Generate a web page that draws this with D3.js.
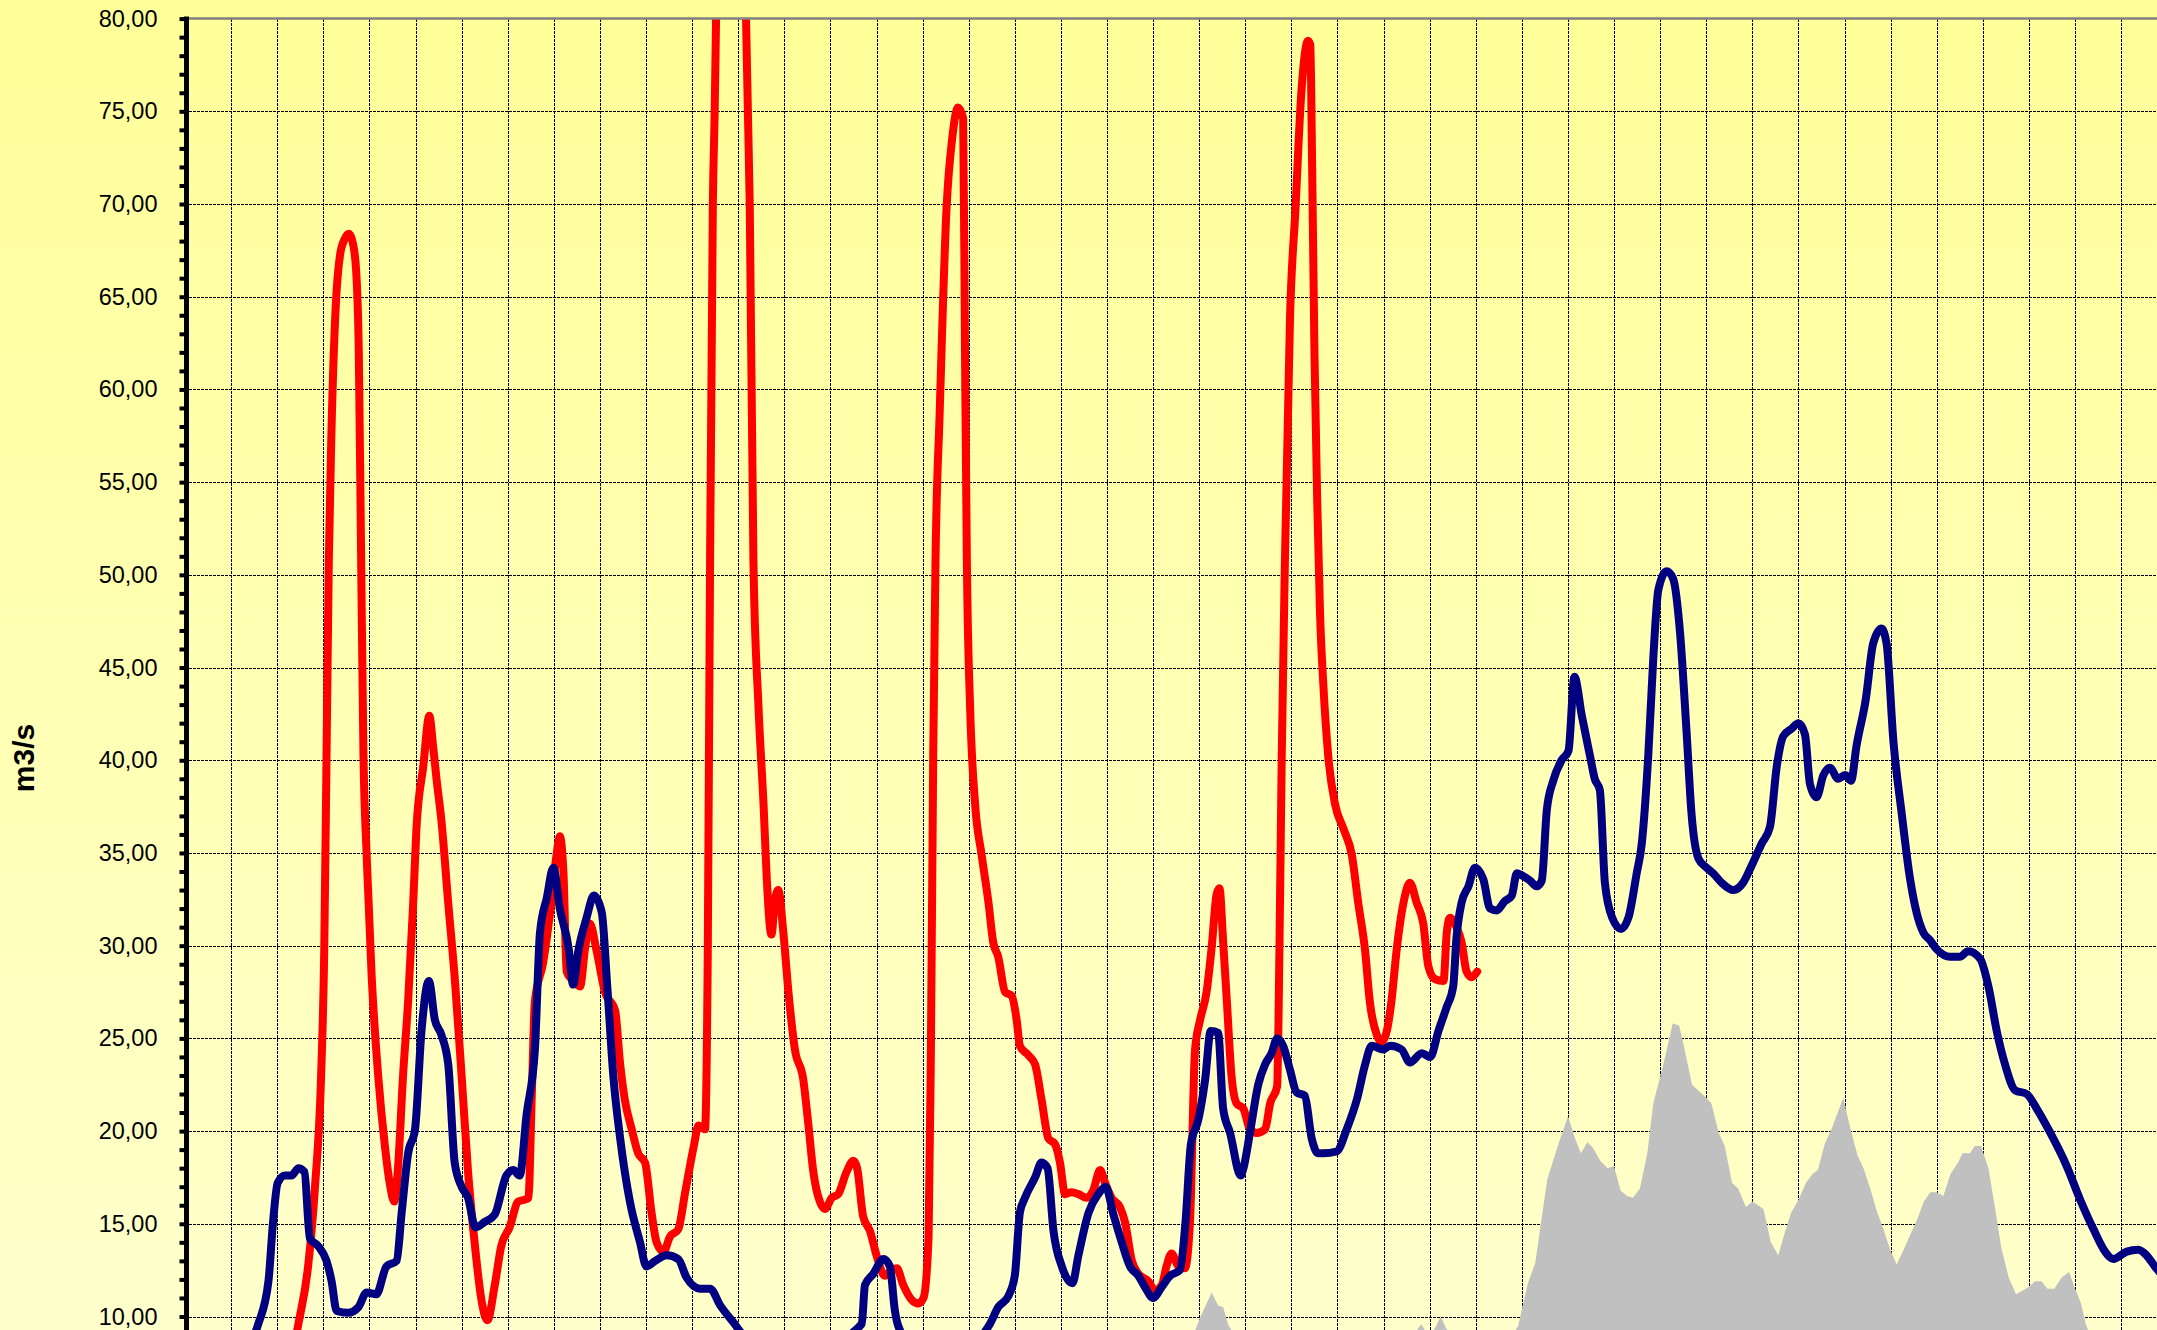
<!DOCTYPE html>
<html>
<head>
<meta charset="utf-8">
<script src="https://cdn.jsdelivr.net/npm/d3@7"></script>
<style>
    body { margin: 0; background: #ffffcc; }
    svg { display: block; font-family: "Liberation Sans", Arial, sans-serif; }
</style>
</head>
<body>
<svg id="chart" width="2157" height="1330"></svg>
<script>
// flow in m3/s, x position in weeks counted from the y axis

// red year
let redWeek = [2.30, 2.46, 2.67, 2.82, 2.95, 3.02, 3.07, 3.12, 3.18, 3.27, 3.36, 3.46, 3.56, 3.64, 3.71, 3.77, 3.82, 3.87, 3.94,
    4.05, 4.19, 4.34, 4.44, 4.54, 4.62, 4.73, 4.84, 4.95, 5.02, 5.17, 5.30, 5.38, 5.46, 5.56, 5.71, 5.85, 6.00, 6.14, 6.29,
    6.43, 6.56, 6.72, 6.86, 7.04, 7.23, 7.37, 7.45, 7.52, 7.59, 7.77, 7.92, 8.06, 8.13, 8.21, 8.28, 8.42, 8.57, 8.68, 8.78,
    8.93, 9.11, 9.33, 9.44, 9.54, 9.69, 9.83, 9.98, 10.12, 10.23, 10.38, 10.52, 10.70, 10.85, 11.03, 11.14, 11.28, 11.34,
    11.39, 11.45, 11.49, 11.52, 11.65, 11.85, 12.05, 12.17, 12.21, 12.25, 12.33, 12.44, 12.55, 12.62, 12.72, 12.80, 12.87,
    12.98, 13.09, 13.23, 13.41, 13.52, 13.63, 13.77, 13.88, 14.03, 14.17, 14.35, 14.50, 14.58, 14.71, 14.86, 15.00, 15.18,
    15.33, 15.44, 15.58, 15.76, 15.91, 16.02, 16.13, 16.18, 16.23, 16.28, 16.37, 16.52, 16.64, 16.77, 16.88, 16.92, 16.96,
    17.03, 17.14, 17.28, 17.43, 17.53, 17.64, 17.79, 17.93, 18.04, 18.11, 18.29, 18.44, 18.58, 18.73, 18.87, 18.98, 19.09,
    19.23, 19.38, 19.56, 19.70, 19.85, 19.96, 20.10, 20.28, 20.39, 20.54, 20.68, 20.90, 21.04, 21.19, 21.29, 21.40, 21.55,
    21.69, 21.80, 21.91, 22.02, 22.16, 22.27, 22.38, 22.44, 22.52, 22.60, 22.70, 22.81, 22.96, 23.10, 23.25, 23.43, 23.54,
    23.69, 23.74, 23.79, 23.86, 23.97, 24.09, 24.21, 24.36, 24.41, 24.45, 24.50, 24.56, 24.62, 24.69, 24.80, 24.95, 25.13,
    25.31, 25.45, 25.60, 25.70, 25.85, 25.96, 26.07, 26.17, 26.28, 26.43, 26.57, 26.72, 26.86, 26.97, 27.11, 27.30, 27.37,
    27.44, 27.58, 27.69, 27.80, 27.91, 28.03];
let redFlow = [7.5, 9.6, 12.7, 17.0, 22.8, 29.7, 40.2, 50.8, 58.0, 64.5, 67.2, 68.1, 68.4, 67.9, 66.5, 62.0, 51.0, 40.5, 34.9,
    28.3, 23.0, 19.1, 17.2, 16.2, 18.0, 23.0, 27.0, 32.3, 36.3, 39.7, 42.4, 40.8, 38.9, 36.8, 32.3, 28.3, 23.0, 17.8, 13.8,
    10.9, 9.8, 11.7, 13.8, 14.8, 16.2, 16.3, 16.4, 21.7, 27.0, 29.1, 31.8, 34.9, 35.9, 33.9, 28.6, 28.1, 27.8, 29.9, 31.2,
    29.7, 27.5, 26.5, 23.6, 21.7, 20.1, 18.8, 18.3, 15.6, 14.0, 13.5, 14.3, 14.7, 16.7, 19.1, 20.3, 20.1, 29.7,
    50.8, 70.0, 75.0, 80.0, 95.0, 100.0, 95.0, 80.0, 75.0, 70.0, 50.8, 42.9, 37.6, 33.6, 30.6, 32.5, 33.0,
    30.7, 27.5, 24.4, 22.8, 20.4, 17.8, 16.2, 15.8, 16.4, 16.6, 17.8, 18.4, 18.0, 15.4, 14.6, 13.3, 12.2,
    12.5, 12.6, 11.7, 10.9, 10.7, 11.0, 14.3, 24.4, 40.2, 50.8, 58.7, 69.8, 73.5, 75.2, 74.6, 62.0, 50.8,
    42.9, 37.6, 34.9, 32.3, 30.2, 29.4, 27.5, 27.3, 26.0, 24.6, 24.1, 23.6, 21.7, 19.6, 19.3, 18.3, 16.6,
    16.7, 16.6, 16.4, 16.8, 17.9, 17.2, 16.4, 15.9, 15.1, 13.0, 12.3, 11.9, 11.4, 11.7, 12.7, 13.4, 12.7,
    12.6, 15.1, 24.4, 26.0, 27.5, 29.9, 32.8, 33.1, 30.2, 27.0, 23.0, 21.5, 21.2, 20.1, 19.9, 20.1, 21.5,
    22.4, 29.7, 40.2, 50.8, 63.9, 69.8, 75.8, 78.8, 78.6, 72.0, 62.0, 54.0, 48.0, 44.2, 40.2, 37.6, 36.3,
    34.9, 32.3, 29.7, 27.0, 25.2, 24.8, 25.4, 27.0, 29.7, 32.3, 33.4, 32.3, 31.2, 28.9, 28.2, 28.1, 30.7,
    31.5, 31.0, 30.2, 28.6, 28.3, 28.6];

// blue year
let blueWeek = [1.30, 1.59, 1.81, 1.91, 2.01, 2.17, 2.31, 2.46, 2.59, 2.71, 2.89, 3.07, 3.18, 3.29, 3.54, 3.76, 3.94, 4.15,
    4.37, 4.59, 4.70, 4.84, 4.99, 5.13, 5.29, 5.42, 5.56, 5.71, 5.85, 6.00, 6.14, 6.30, 6.50, 6.72, 6.97, 7.12, 7.26, 7.41,
    7.59, 7.70, 7.85, 7.99, 8.13, 8.32, 8.42, 8.53, 8.71, 8.87, 9.04, 9.16, 9.29, 9.44, 9.65, 9.87, 10.01, 10.20, 10.45,
    10.70, 10.88, 11.17, 11.39, 11.61, 11.89, 12.20, 13.00, 14.00, 14.68, 14.75, 14.93, 15.15, 15.29, 15.40, 15.47, 15.80,
    16.80, 17.46, 17.64, 17.86, 18.00, 18.11, 18.22, 18.44, 18.58, 18.71, 18.84, 19.02, 19.25, 19.38, 19.60, 19.81, 19.97,
    20.14, 20.32, 20.50, 20.68, 20.82, 21.00, 21.19, 21.37, 21.58, 21.70, 21.82, 21.98, 22.13, 22.25, 22.41, 22.52, 22.67,
    22.90, 22.96, 23.10, 23.28, 23.43, 23.57, 23.69, 23.82, 23.97, 24.11, 24.29, 24.44, 24.58, 24.69, 24.98, 25.20, 25.42,
    25.60, 25.74, 25.99, 26.14, 26.39, 26.57, 26.83, 27.01, 27.19, 27.37, 27.51, 27.58, 27.69, 27.84, 27.98, 28.16, 28.31,
    28.45, 28.63, 28.78, 28.89, 28.99, 29.18, 29.32, 29.43, 29.54, 29.68, 29.86, 30.01, 30.14, 30.30, 30.48, 30.58, 30.69,
    30.80, 30.96, 31.15, 31.31, 31.49, 31.60, 31.74, 31.85, 31.96, 32.14, 32.28, 32.43, 32.57, 32.68, 32.83, 33.01, 33.15,
    33.33, 33.59, 33.80, 33.98, 34.20, 34.38, 34.53, 34.67, 34.85, 35.00, 35.14, 35.25, 35.39, 35.54, 35.68, 35.86, 36.01,
    36.14, 36.26, 36.46, 36.62, 36.80, 36.91, 37.06, 37.24, 37.42, 37.56, 37.71, 37.85, 38.00, 38.29, 38.50, 38.68, 38.94,
    39.12, 39.30, 39.48, 39.70, 39.95, 40.17, 40.42, 40.82, 41.11, 41.40, 41.65, 41.83, 42.12, 42.37, 42.55, 42.73, 42.90];
let blueFlow = [8.0, 9.6, 11.9, 15.1, 17.2, 17.6, 17.6, 18.0, 17.8, 14.2, 13.8, 13.0, 11.9, 10.3, 10.2, 10.5, 11.3, 11.2,
    12.7, 13.0, 15.6, 18.8, 20.1, 25.4, 28.1, 26.0, 25.2, 23.6, 18.3, 17.0, 16.4, 14.8, 15.1, 15.5, 17.6, 17.9, 17.6, 20.9,
    24.4, 30.7, 32.6, 34.2, 32.0, 29.9, 27.9, 29.7, 31.5, 32.7, 31.8, 27.8, 23.0, 19.6, 16.2, 14.0, 12.7, 13.0, 13.3,
    13.1, 12.1, 11.5, 11.5, 10.6, 9.7, 8.8, 8.3, 8.6, 9.6, 11.7, 12.3, 13.1, 12.7, 10.3, 9.5, 8.4,
    8.2, 9.6, 10.5, 11.1, 12.2, 15.6, 16.4, 17.5, 18.3, 18.0, 14.6, 12.7, 11.8, 13.3, 15.6, 16.6, 17.0,
    15.5, 14.0, 12.7, 12.2, 11.6, 11.0, 11.6, 12.2, 12.5, 15.0, 19.3, 20.6, 22.8, 25.4, 25.3, 21.2, 19.9,
    17.6, 18.0, 19.9, 22.5, 23.6, 24.2, 25.0, 24.6, 23.3, 22.1, 21.9, 19.6, 18.8, 18.8, 18.9, 20.1, 21.7,
    23.6, 24.6, 24.4, 24.6, 24.4, 23.7, 24.2, 24.0, 25.4, 26.7, 27.8, 30.4, 32.3, 33.2, 34.2, 33.6, 32.0,
    31.9, 32.4, 32.7, 33.9, 33.8, 33.5, 33.2, 33.5, 37.3, 38.9, 40.0, 40.5, 44.5, 42.4, 40.2, 39.0, 38.4,
    33.4, 31.5, 30.9, 31.5, 33.9, 35.5, 40.2, 45.5, 49.2, 50.2, 49.8, 46.9, 41.6, 37.1, 34.7, 34.2, 33.9,
    33.4, 33.0, 33.4, 34.3, 35.5, 36.4, 39.7, 41.3, 41.7, 42.0, 41.4, 38.7, 38.0, 39.2, 39.6, 39.0, 39.2,
    38.9, 40.8, 43.3, 46.3, 47.1, 46.3, 41.0, 37.1, 33.6, 31.8, 30.7, 30.3, 29.8, 29.4, 29.4, 29.7, 29.3,
    27.8, 25.4, 23.6, 22.2, 22.0, 21.2, 20.1, 18.1, 16.3, 14.7, 13.5, 13.1, 13.5, 13.6, 13.3, 12.7, 12.2];

// grey year (area)
let greyWeek = [21.80, 22.02, 22.27, 22.41, 22.52, 22.63, 22.90, 26.50, 26.82, 26.95, 27.10, 27.24, 27.35, 27.60, 28.70,
    28.92, 29.13, 29.29, 29.55, 29.82, 30.00, 30.14, 30.28, 30.42, 30.54, 30.70, 30.86, 31.00, 31.14, 31.28, 31.41, 31.56,
    31.72, 31.85, 32.06, 32.27, 32.41, 32.53, 32.69, 32.95, 33.11, 33.27, 33.40, 33.56, 33.69, 33.86, 34.00, 34.24, 34.40,
    34.56, 34.70, 34.84, 35.00, 35.16, 35.31, 35.42, 35.57, 35.73, 35.97, 36.12, 36.28, 36.41, 36.57, 36.71, 36.83, 36.99,
    37.13, 37.28, 37.44, 37.57, 37.72, 37.86, 38.00, 38.14, 38.30, 38.46, 38.56, 38.72, 38.82, 38.96, 39.12, 39.26, 39.40,
    39.56, 39.72, 39.87, 40.00, 40.13, 40.27, 40.40, 40.55, 40.71, 40.87, 41.00, 41.13, 41.23, 41.40];
let greyFlow = [8.5, 9.95, 11.3, 10.6, 10.5, 9.55, 8.5, 8.5, 9.6, 9.0, 9.3, 10.0, 9.4, 8.6, 8.6,
    9.5, 11.8, 12.9, 17.4, 19.5, 20.8, 19.7, 18.8, 19.4, 19.1, 18.4, 18.0, 18.1, 16.8, 16.5, 16.4, 16.9,
    18.8, 21.5, 23.5, 25.8, 25.7, 24.4, 22.5, 21.9, 21.5, 19.9, 19.2, 17.2, 16.9, 15.9, 16.2, 15.8, 14.0,
    13.3, 14.5, 15.6, 16.3, 17.2, 17.7, 17.9, 19.3, 20.2, 21.8, 20.2, 18.7, 18.0, 16.8, 15.6, 14.8, 13.6,
    12.8, 13.6, 14.5, 15.2, 16.2, 16.7, 16.7, 16.5, 17.7, 18.3, 18.8, 18.8, 19.2, 19.2, 18.0, 15.9, 13.7,
    12.1, 11.2, 11.4, 11.6, 11.9, 11.9, 11.5, 11.5, 12.1, 12.4, 11.5, 10.7, 9.6, 8.5];

let yTicks = d3.range(10, 81, 1);
let yLabels = d3.range(10, 81, 5);
let weeks = d3.range(1, 43);

let width = 2157,
    height = 1330;

let svg = d3.select("#chart");

let x = d3.scaleLinear().domain([0, 42]).range([185, 185 + 42 * 46.1]);
let y = d3.scaleLinear().domain([10, 80]).range([1316.5, 18.6]);

let defs = svg.append("defs");
let grad = defs.append("linearGradient")
    .attr("id", "bg")
    .attr("x1", 0).attr("y1", 0).attr("x2", 0).attr("y2", 1);
grad.append("stop").attr("offset", "0%").attr("stop-color", "#ffff99");
grad.append("stop").attr("offset", "100%").attr("stop-color", "#ffffcc");

defs.append("clipPath").attr("id", "plot")
    .append("rect")
    .attr("x", x(0)).attr("y", y(80))
    .attr("width", width - x(0)).attr("height", height - y(80));

svg.append("rect")
    .attr("width", width).attr("height", height)
    .attr("fill", "url(#bg)");

// grid
let grid = svg.append("g").attr("shape-rendering", "crispEdges");
grid.selectAll(".hgrid")
    .data(yLabels.filter(function (d) { return d < 80; }))
    .enter().append("line")
    .attr("x1", x(0)).attr("x2", width)
    .attr("y1", function (d) { return Math.round(y(d)) + 0.5; })
    .attr("y2", function (d) { return Math.round(y(d)) + 0.5; })
    .attr("stroke", "#000")
    .attr("stroke-dasharray", "3,1");
grid.selectAll(".vgrid")
    .data(weeks)
    .enter().append("line")
    .attr("x1", function (d) { return Math.round(x(d)) + 0.5; })
    .attr("x2", function (d) { return Math.round(x(d)) + 0.5; })
    .attr("y1", y(80)).attr("y2", height)
    .attr("stroke", "#000")
    .attr("stroke-dasharray", "3,1");

// series
let plot = svg.append("g").attr("clip-path", "url(#plot)");

let area = d3.area()
    .x(function (d) { return x(d[0]); })
    .y0(y(0))
    .y1(function (d) { return y(d[1]); });

plot.append("path")
    .datum(d3.zip(greyWeek, greyFlow))
    .attr("d", area)
    .attr("fill", "#c0c0c0");

let line = d3.line()
    .curve(d3.curveMonotoneX)
    .x(function (d) { return x(d[0]); })
    .y(function (d) { return y(d[1]); });

plot.append("path")
    .datum(d3.zip(redWeek, redFlow))
    .attr("d", line)
    .attr("fill", "none")
    .attr("stroke", "#ff0000")
    .attr("stroke-width", 8)
    .attr("stroke-linejoin", "round")
    .attr("stroke-linecap", "round");

plot.append("path")
    .datum(d3.zip(blueWeek, blueFlow))
    .attr("d", line)
    .attr("fill", "none")
    .attr("stroke", "#000080")
    .attr("stroke-width", 8)
    .attr("stroke-linejoin", "round")
    .attr("stroke-linecap", "round");

// top border
svg.append("line")
    .attr("x1", x(0)).attr("x2", width)
    .attr("y1", y(80)).attr("y2", y(80))
    .attr("stroke", "#808080")
    .attr("stroke-width", 2.5);

// y axis
let fmt = d3.format(".2f");
let yAxis = d3.axisLeft(y)
    .tickValues(yTicks)
    .tickSize(7)
    .tickSizeOuter(0)
    .tickPadding(22)
    .tickFormat(function (d) {
        return d % 5 === 0 ? fmt(d).replace(".", ",") : "";
    });

let axisG = svg.append("g")
    .attr("transform", "translate(" + 186.5 + ",0)")
    .call(yAxis);
axisG.select(".domain").remove();
axisG.selectAll(".tick line")
    .attr("stroke", "#000")
    .attr("stroke-width", 4);
axisG.selectAll(".tick text")
    .attr("fill", "#000")
    .style("font-size", "23.5px")
    .style("font-family", "'Liberation Sans', Arial, sans-serif");

svg.append("line")
    .attr("x1", 186.5).attr("x2", 186.5)
    .attr("y1", y(80) - 2).attr("y2", height)
    .attr("stroke", "#000")
    .attr("stroke-width", 5);

svg.append("text")
    .attr("transform", "translate(34,758) rotate(-90)")
    .attr("text-anchor", "middle")
    .style("font-size", "30px")
    .style("font-weight", "bold")
    .text("m3/s");
</script>
</body>
</html>
